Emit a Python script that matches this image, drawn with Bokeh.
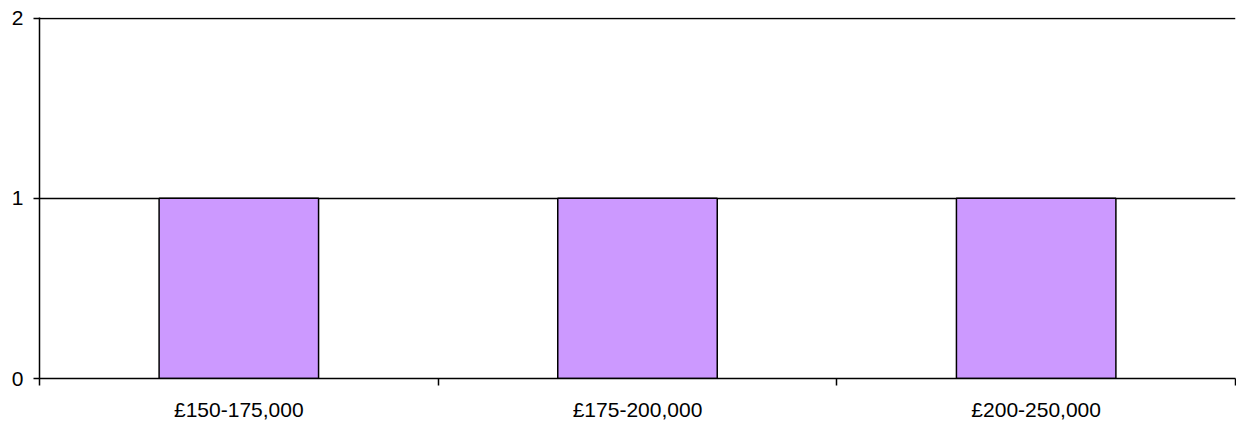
from bokeh.plotting import figure
from bokeh.models import Range1d, FixedTicker, ColumnDataSource
from bokeh.embed import file_html
from bokeh.resources import INLINE

categories = ["£150-175,000", "£175-200,000", "£200-250,000"]
counts = [1, 1, 1]
y_ticks = [0, 1, 2]

xs = [i + 0.5 for i in range(len(categories))]
src = ColumnDataSource(dict(x=xs, top=counts, cat=categories))

p = figure(width=1236, height=423, output_backend="svg", toolbar_location=None,
           x_range=Range1d(0, len(categories)), y_range=Range1d(0, 2.004),
           min_border_left=39, min_border_right=1, min_border_top=17, min_border_bottom=45)
p.outline_line_color = None
p.background_fill_color = "white"
p.border_fill_color = "white"

p.vbar(x="x", top="top", bottom=0, width=0.4, source=src,
       fill_color="#CC99FF", line_color="black", line_width=1.5)

font = "Liberation Sans"
p.xaxis.ticker = FixedTicker(ticks=xs, minor_ticks=list(range(len(categories) + 1)))
p.xaxis.major_label_overrides = {x: c for x, c in zip(xs, categories)}
p.xaxis.major_tick_line_color = None
p.xaxis.major_tick_out = 0
p.xaxis.major_tick_in = 0
p.xaxis.minor_tick_out = 7
p.xaxis.minor_tick_in = 0
p.xaxis.minor_tick_line_color = "black"
p.xaxis.minor_tick_line_width = 1.5
p.xaxis.major_label_standoff = 12
p.xaxis.major_label_text_font = font
p.xaxis.major_label_text_font_size = "21px"
p.xaxis.major_label_text_color = "black"
p.xaxis.axis_line_color = "black"
p.xaxis.axis_line_width = 1.5

p.yaxis.ticker = FixedTicker(ticks=y_ticks)
p.yaxis.major_tick_out = 6
p.yaxis.major_tick_in = 0
p.yaxis.minor_tick_line_color = None
p.yaxis.major_label_standoff = 10
p.yaxis.major_label_text_font = font
p.yaxis.major_label_text_font_size = "21px"
p.yaxis.major_label_text_color = "black"
p.yaxis.axis_line_color = "black"
p.yaxis.axis_line_width = 1.5
p.yaxis.major_tick_line_color = "black"
p.yaxis.major_tick_line_width = 1.5

p.xgrid.grid_line_color = None
p.ygrid.grid_line_color = "black"
p.ygrid.grid_line_width = 1.5

open("out.html", "w").write(file_html(p, INLINE))
